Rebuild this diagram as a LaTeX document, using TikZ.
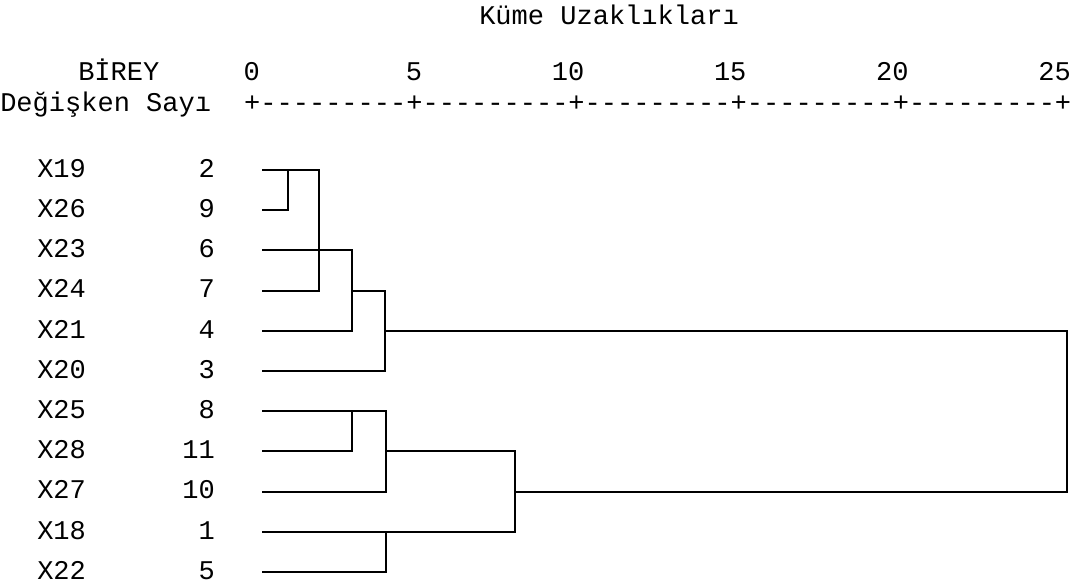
\documentclass[tikz,border=0pt]{standalone}
\usepackage{fontspec}
\newfontfamily\mono{Liberation Mono}

\begin{document}
\begin{tikzpicture}[x=0.75pt,y=-0.75pt,
    txt/.style={inner sep=0pt, font=\mono\fontsize{20.27}{24}\selectfont},
    link/.style={line width=1.5pt, line cap=rect, line join=miter}]
\useasboundingbox (0,0) rectangle (1077,586);

% row heights of the eleven leaves
\def\rA{170}\def\rB{210.2}\def\rC{250.4}\def\rD{290.6}\def\rE{330.8}
\def\rF{371}\def\rG{411.2}\def\rH{451.4}\def\rI{491.6}\def\rJ{531.8}\def\rK{572}

% headings and axis
\node[txt, anchor=base west] (title) at (479,24) {Küme Uzaklıkları};
\node[txt, anchor=base west] (birey) at (78,80) {BİREY};
\node[txt, anchor=base west] (degisken) at (0,111) {Değişken Sayı};
\node[txt, anchor=base west] (axis) at (243.9,111)
  {+---------+---------+---------+---------+---------+};
\foreach \v/\c in {0/1,5/11,10/21,15/31,20/41,25/51}
  \node[txt, anchor=base east] (tick\v) at ({243.9+\c*16.22},80) {\v};

% leaf labels
\foreach \nm/\num/\y in {X19/2/\rA, X26/9/\rB, X23/6/\rC, X24/7/\rD,
    X21/4/\rE, X20/3/\rF, X25/8/\rG, X28/11/\rH, X27/10/\rI,
    X18/1/\rJ, X22/5/\rK}{
  \node[txt, anchor=base west] (lab\nm) at (37,\y+7.3) {\nm};
  \node[txt, anchor=base east] (num\nm) at (215,\y+7.3) {\num};
  \coordinate (s\nm) at (263,\y);
}

% junction points
\coordinate (a1) at (288,\rA);
\coordinate (a2) at (319,\rD);
\coordinate (a3) at (352,\rE);
\coordinate (m3) at (352,\rD);
\coordinate (a4) at (385,\rF);
\coordinate (m4) at (385,\rE);
\coordinate (a9) at (1067,\rI);
\coordinate (m8) at (515,\rI);
\coordinate (a6) at (386,\rI);
\coordinate (a5) at (352,\rG);
\coordinate (m6) at (386,\rH);
\coordinate (a8) at (515,\rJ);
\coordinate (a7) at (386,\rJ);

% dendrogram
\draw[link] (sX26) -| (a1);
\draw[link] (sX19) -| (a2) -- (sX24);
\draw[link] (sX23) -| (a3) -- (sX21);
\draw[link] (m3) -| (a4) -- (sX20);
\draw[link] (m4) -| (a9) -- (m8);
\draw[link] (sX25) -| (a6) -- (sX27);
\draw[link] (a5) |- (sX28);
\draw[link] (m6) -| (a8) -- (sX18);
\draw[link] (a7) |- (sX22);
\end{tikzpicture}
\end{document}
